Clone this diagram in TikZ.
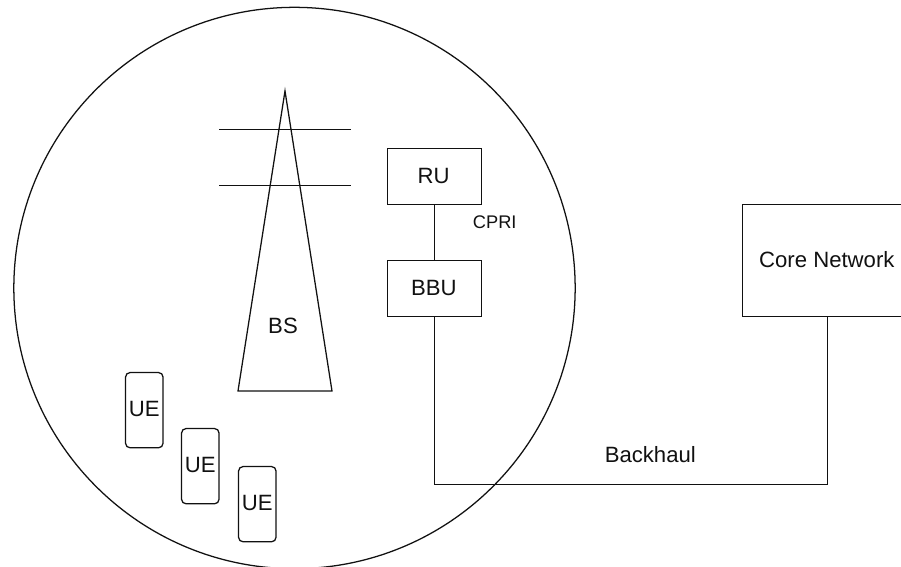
\documentclass[tikz,border=0pt]{standalone}
\usepackage{fontspec}
\setmainfont{Liberation Sans}
\definecolor{ink}{HTML}{111111}
\newcommand{\lift}[1]{\raisebox{1.5pt}{#1}}
\tikzset{
  line/.style={draw=ink,line width=0.95pt},
  box/.style={line,rectangle,inner sep=0pt,outer sep=0pt,anchor=north west,text=ink,font=\fontsize{16.6}{19}\selectfont},
  ubox/.style={box,rounded corners=3.5pt,minimum width=28.2pt,minimum height=56.5pt},
  lbl/.style={inner sep=0pt,text=ink,font=\fontsize{16.6}{19}\selectfont}
}
\begin{document}
\begin{tikzpicture}[x=0.75pt,y=-0.75pt]
\useasboundingbox (0,0) rectangle (901,567);
\fill[white] (0,0) rectangle (901,567);
\coordinate (cc) at (294.5,288);
\draw[line] (cc) circle [radius=210.5pt];
\coordinate (top) at (285,91);
\coordinate (bl) at (238,391);
\coordinate (br) at (332,391);
\draw[line] (top) -- (br) -- (bl) -- cycle;
\coordinate (a1l) at (219,129.5); \coordinate (a1r) at (351,129.5);
\coordinate (a2l) at (219,185.5); \coordinate (a2r) at (351,185.5);
\draw[line] (a1l) -- (a1r);
\draw[line] (a2l) -- (a2r);
\node[lbl] (bs) at (283,326) {BS};
\node[box,minimum width=70.5pt,minimum height=42pt,align=center] (ru) at (387.5,148.5) {\hspace{-1.2pt}\lift{RU}};
\node[box,minimum width=70.5pt,minimum height=42pt,align=center] (bbu) at (387.5,260.5) {\hspace{-1pt}\lift{BBU}};
\node[box,minimum width=126.5pt,minimum height=84pt,align=center] (core) at (742.5,204.5) {\lift{Core Network}};
\node[ubox] (ue1) at (125.5,372.5) {\lift{UE}};
\node[ubox] (ue2) at (181.5,428.5) {\lift{UE}};
\node[ubox] (ue3) at (238.5,466.5) {\lift{UE}};
\draw[line] (ru.south) -- (bbu.north);
\coordinate (c2) at (827.5,484.5);
\draw[line] (bbu.south) -- (bbu.south |- c2) -- (c2) -- (c2 |- core.south);
\node[lbl,font=\fontsize{13.7}{16}\selectfont] (cpri) at (494.7,222.7) {CPRI};
\node[lbl] (bh) at (650.3,455) {Backhaul};
\end{tikzpicture}
\end{document}
